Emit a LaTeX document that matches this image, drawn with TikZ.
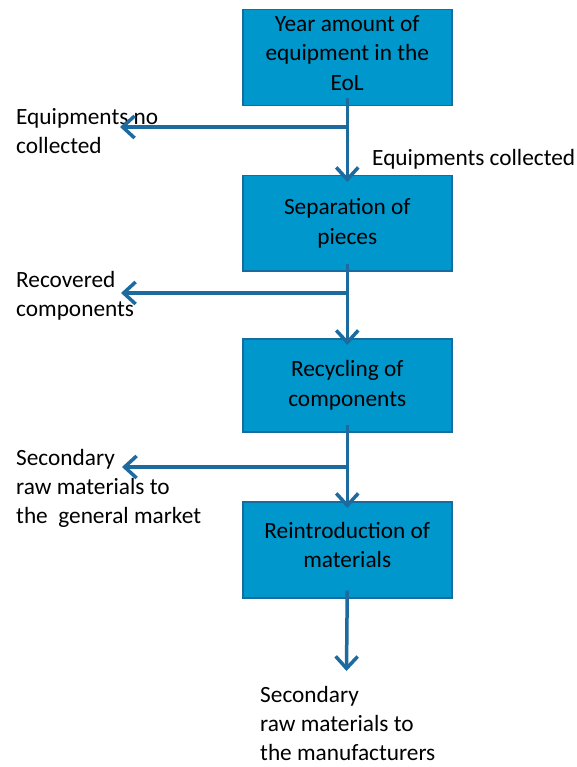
\documentclass[tikz,border=0pt]{standalone}
\usepackage{fontspec}
\setmainfont{Carlito}
\usetikzlibrary{arrows.meta}
\definecolor{boxfill}{RGB}{0,151,204}
\definecolor{boxline}{RGB}{22,108,158}
\definecolor{arrowc}{RGB}{28,106,158}
\begin{document}
\begin{tikzpicture}[x=1pt,y=-1pt,
  box/.style={draw=boxline, line width=1.5pt, fill=boxfill, minimum width=209pt, minimum height=#1, inner sep=0pt, anchor=north west},
  boxtext/.style={align=center, font=\fontsize{23.3}{29.5}\selectfont, inner sep=0pt},
  lbl/.style={align=left, font=\fontsize{23.3}{29}\selectfont, anchor=north west, inner sep=0pt},
  flow/.style={draw=arrowc, line width=3.5pt, -{Straight Barb[length=12pt,width=22pt,line width=3.5pt]}}]
\useasboundingbox (0,0) rectangle (577,767);
% boxes
\node[box=96pt] (b1) at (242,9) {};
\node[box=95pt] (b2) at (242,175) {};
\node[box=93pt] (b3) at (242,338) {};
\node[box=96pt] (b4) at (242,501) {};
\node[boxtext] (t1) at ([yshift=5pt]b1.center) {Year amount of\\equipment in the\\EoL};
\node[boxtext] (t2) at (b2.center) {Separation of\\pieces};
\node[boxtext] (t3) at (b3.center) {Recycling of\\components};
\node[boxtext] (t4) at ([yshift=5pt]b4.center) {Reintroduction of\\materials};
% labels
\node[lbl] (l1) at (16,108) {Equipments no\\collected};
\node[lbl] (l2) at (372,149) {Equipments collected};
\node[lbl] (l3) at (16,271) {Recovered\\components};
\node[lbl] (l4) at (16,449) {Secondary\\raw materials to\\the\ \ general market};
\node[lbl] (l5) at (260,686) {Secondary\\raw materials to\\the manufacturers};
% junctions and free ends
\coordinate (j1) at (346.5,127);
\coordinate (e1) at (120,127);
\coordinate (j2) at (346.5,293);
\coordinate (e2) at (121,293);
\coordinate (j3) at (346.5,467);
\coordinate (e3) at (122,467);
\coordinate (e4) at (346.5,671);
% connectors
\draw[flow] ([yshift=8pt]b1.south) -- ([yshift=-7pt]b2.north);
\draw[flow] (j1) -- (e1);
\draw[flow] ([yshift=8pt]b2.south) -- ([yshift=-7pt]b3.north);
\draw[flow] (j2) -- (e2);
\draw[flow] ([yshift=8pt]b3.south) -- ([yshift=-7pt]b4.north);
\draw[flow] (j3) -- (e3);
\draw[flow] ([yshift=8pt]b4.south) -- (e4);
\end{tikzpicture}
\end{document}
